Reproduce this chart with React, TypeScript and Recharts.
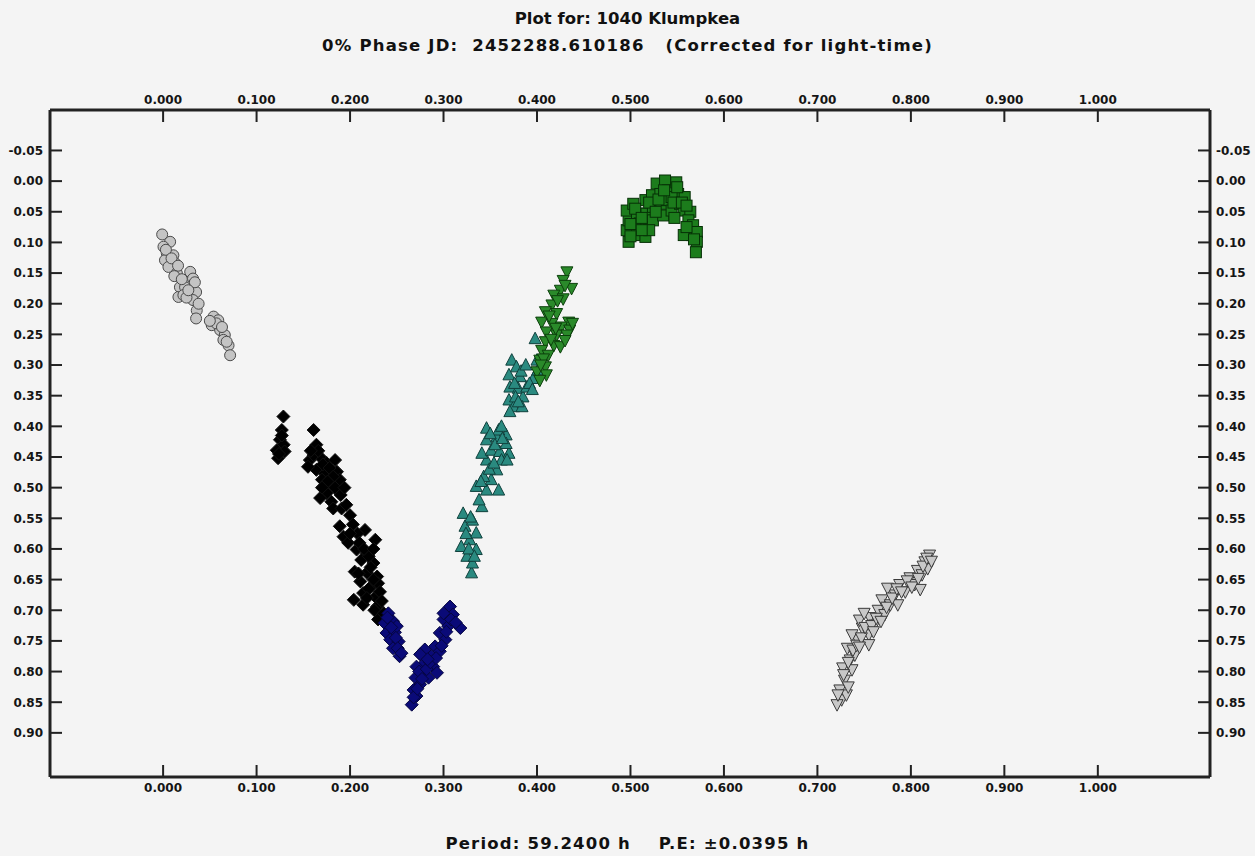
import { ScatterChart, Scatter, XAxis, YAxis } from "recharts";

// phase ticks (top & bottom) and magnitude ticks (left & right)
const phaseTicks = [0, 0.1, 0.2, 0.3, 0.4, 0.5, 0.6, 0.7, 0.8, 0.9, 1.0];
const magTicks = [-0.05, 0, 0.05, 0.1, 0.15, 0.2, 0.25, 0.3, 0.35, 0.4, 0.45, 0.5, 0.55, 0.6, 0.65, 0.7, 0.75, 0.8, 0.85, 0.9];

// [phase, reduced mag]
const grayCircles: [number, number][] = [
  [-0.001, 0.087], [0.0075, 0.099], [0.0004, 0.107], [0.004, 0.118], [0.011, 0.121], [0.002, 0.129],
  [0.013, 0.134], [0.0057, 0.14], [0.0147, 0.15], [0.018, 0.173], [0.0164, 0.189], [0.029, 0.148],
  [0.032, 0.159], [0.031, 0.17], [0.0353, 0.181], [0.032, 0.194], [0.036, 0.211], [0.0353, 0.224],
  [0.0235, 0.173], [0.0217, 0.186], [0.054, 0.221], [0.059, 0.227], [0.052, 0.235], [0.061, 0.243],
  [0.066, 0.251], [0.0645, 0.259], [0.07, 0.268], [0.0717, 0.284],
  [0.003, 0.112], [0.009, 0.126], [0.016, 0.138], [0.012, 0.155], [0.02, 0.16], [0.025, 0.19],
  [0.034, 0.165], [0.038, 0.2], [0.057, 0.232], [0.063, 0.238], [0.068, 0.262], [0.05, 0.228], [0.027, 0.178],
];

const blackDiamonds: [number, number][] = [
  [0.1287, 0.384], [0.127, 0.406], [0.125, 0.422], [0.129, 0.43], [0.1216, 0.439], [0.13, 0.441], [0.123, 0.452],
  [0.161, 0.406], [0.164, 0.43], [0.157, 0.455], [0.168, 0.45], [0.175, 0.46], [0.184, 0.455], [0.164, 0.471],
  [0.173, 0.477], [0.186, 0.474], [0.17, 0.487], [0.179, 0.493], [0.189, 0.487], [0.175, 0.509], [0.186, 0.504],
  [0.168, 0.517], [0.18, 0.523], [0.182, 0.534], [0.191, 0.534], [0.161, 0.447], [0.155, 0.466],
  [0.189, 0.563], [0.193, 0.58], [0.198, 0.59], [0.216, 0.569], [0.227, 0.585], [0.207, 0.601], [0.218, 0.607],
  [0.212, 0.618], [0.225, 0.623], [0.205, 0.637], [0.218, 0.639], [0.229, 0.645], [0.211, 0.653], [0.223, 0.661],
  [0.23, 0.656], [0.214, 0.672], [0.227, 0.678], [0.204, 0.683], [0.214, 0.691], [0.229, 0.694], [0.23, 0.715],
  [0.22, 0.612], [0.225, 0.65],
  [0.166, 0.44], [0.171, 0.462], [0.178, 0.468], [0.182, 0.482], [0.176, 0.49], [0.184, 0.5], [0.19, 0.512],
  [0.196, 0.528], [0.2, 0.545], [0.203, 0.56], [0.208, 0.575], [0.21, 0.59], [0.215, 0.6], [0.222, 0.63],
  [0.22, 0.665], [0.232, 0.67], [0.226, 0.7], [0.218, 0.68], [0.209, 0.64], [0.225, 0.6], [0.127, 0.415],
  [0.124, 0.445], [0.158, 0.44], [0.17, 0.5], [0.194, 0.5], [0.2, 0.575], [0.234, 0.685], [0.236, 0.705],
];

const navyDiamonds: [number, number][] = [
  [0.241, 0.705], [0.237, 0.721], [0.246, 0.718], [0.239, 0.737], [0.248, 0.736], [0.243, 0.748], [0.252, 0.751],
  [0.246, 0.762], [0.253, 0.775], [0.25, 0.726],
  [0.307, 0.694], [0.31, 0.707], [0.318, 0.729], [0.3, 0.715], [0.305, 0.726], [0.296, 0.737], [0.302, 0.748],
  [0.291, 0.759], [0.296, 0.767], [0.28, 0.764], [0.287, 0.775], [0.275, 0.772], [0.28, 0.786], [0.289, 0.792],
  [0.271, 0.792], [0.278, 0.802], [0.27, 0.81], [0.275, 0.821], [0.268, 0.83], [0.271, 0.84], [0.266, 0.854],
  [0.284, 0.81], [0.293, 0.802],
  [0.244, 0.728], [0.249, 0.745], [0.251, 0.762], [0.255, 0.77], [0.24, 0.712], [0.274, 0.8], [0.282, 0.796],
  [0.286, 0.785], [0.292, 0.778], [0.298, 0.758], [0.303, 0.735], [0.308, 0.715], [0.268, 0.842], [0.272, 0.828],
  [0.277, 0.812], [0.283, 0.78], [0.3, 0.705], [0.313, 0.72],
];

const tealTriangles: [number, number][] = [
  [0.33, 0.639], [0.331, 0.623], [0.325, 0.612], [0.335, 0.601], [0.319, 0.596], [0.328, 0.585], [0.335, 0.574],
  [0.323, 0.563], [0.331, 0.553], [0.321, 0.542], [0.341, 0.531],
  [0.335, 0.498], [0.346, 0.504], [0.359, 0.504], [0.351, 0.487], [0.343, 0.482], [0.357, 0.471], [0.346, 0.455],
  [0.341, 0.444], [0.351, 0.439], [0.36, 0.441], [0.37, 0.444], [0.346, 0.422], [0.357, 0.417], [0.367, 0.414],
  [0.346, 0.403], [0.359, 0.406], [0.367, 0.428], [0.362, 0.455],
  [0.373, 0.292], [0.378, 0.303], [0.37, 0.316], [0.382, 0.319], [0.371, 0.336], [0.38, 0.338], [0.385, 0.352],
  [0.37, 0.357], [0.375, 0.368], [0.384, 0.368], [0.371, 0.376], [0.389, 0.336], [0.396, 0.322], [0.398, 0.257],
  [0.4, 0.292], [0.401, 0.308],
  [0.327, 0.6], [0.333, 0.612], [0.324, 0.575], [0.329, 0.548], [0.338, 0.52], [0.349, 0.47], [0.354, 0.46],
  [0.34, 0.49], [0.355, 0.43], [0.363, 0.42], [0.35, 0.412], [0.362, 0.4], [0.368, 0.455], [0.376, 0.33],
  [0.383, 0.31], [0.388, 0.3], [0.377, 0.352], [0.392, 0.33], [0.395, 0.34], [0.38, 0.36],
];

const greenTriangles: [number, number][] = [
  [0.432, 0.148], [0.428, 0.162], [0.437, 0.175], [0.425, 0.178], [0.418, 0.186], [0.428, 0.192], [0.416, 0.202],
  [0.409, 0.213], [0.421, 0.216], [0.434, 0.23], [0.405, 0.23], [0.416, 0.232], [0.426, 0.238], [0.435, 0.243],
  [0.41, 0.246], [0.421, 0.251], [0.432, 0.251], [0.409, 0.262], [0.418, 0.268], [0.425, 0.27], [0.405, 0.276],
  [0.412, 0.284], [0.403, 0.292], [0.409, 0.303], [0.4, 0.311], [0.41, 0.316], [0.403, 0.325],
  [0.43, 0.17], [0.422, 0.195], [0.413, 0.22], [0.43, 0.26], [0.415, 0.258], [0.407, 0.29], [0.42, 0.24],
  [0.438, 0.232], [0.404, 0.3],
];

const greenSquares: [number, number][] = [
  [0.498, 0.099], [0.496, 0.08], [0.498, 0.064], [0.496, 0.048], [0.503, 0.037], [0.507, 0.053], [0.51, 0.069],
  [0.507, 0.088], [0.516, 0.031], [0.517, 0.053], [0.517, 0.075], [0.516, 0.091], [0.523, 0.023], [0.524, 0.042],
  [0.524, 0.064], [0.528, 0.004], [0.532, 0.021], [0.533, 0.037], [0.535, 0.056], [0.537, -0.001], [0.54, 0.015],
  [0.539, 0.031], [0.544, 0.048], [0.549, 0.002], [0.551, 0.021], [0.553, 0.037], [0.557, 0.048], [0.558, 0.026],
  [0.564, 0.05], [0.562, 0.064], [0.567, 0.072], [0.566, 0.088], [0.571, 0.083], [0.571, 0.099], [0.57, 0.116],
  [0.557, 0.088], [0.544, 0.026],
  [0.5, 0.07], [0.505, 0.045], [0.512, 0.06], [0.52, 0.035], [0.527, 0.05], [0.53, 0.03], [0.536, 0.015],
  [0.546, 0.035], [0.55, 0.01], [0.555, 0.035], [0.56, 0.04], [0.56, 0.075], [0.568, 0.095], [0.52, 0.08],
  [0.512, 0.08], [0.547, 0.06], [0.5, 0.09],
];

const grayTriangles: [number, number][] = [
  [0.726, 0.846], [0.724, 0.83], [0.729, 0.814], [0.727, 0.794], [0.735, 0.781], [0.732, 0.762], [0.74, 0.773],
  [0.743, 0.748], [0.737, 0.74], [0.748, 0.729], [0.755, 0.74], [0.745, 0.716], [0.756, 0.712], [0.761, 0.724],
  [0.765, 0.7], [0.772, 0.707], [0.769, 0.683], [0.778, 0.691], [0.783, 0.675], [0.775, 0.664], [0.788, 0.658],
  [0.794, 0.67], [0.799, 0.647], [0.804, 0.658], [0.807, 0.635], [0.812, 0.642], [0.815, 0.621], [0.82, 0.61],
  [0.818, 0.632], [0.81, 0.666], [0.786, 0.691], [0.755, 0.756], [0.721, 0.854], [0.731, 0.838], [0.737, 0.797],
  [0.728, 0.805], [0.733, 0.785], [0.738, 0.765], [0.742, 0.757], [0.747, 0.745], [0.751, 0.728], [0.758, 0.725],
  [0.763, 0.713], [0.768, 0.718], [0.774, 0.695], [0.78, 0.68], [0.785, 0.665], [0.79, 0.67], [0.796, 0.652],
  [0.801, 0.662], [0.808, 0.648], [0.813, 0.628], [0.817, 0.615], [0.822, 0.62], [0.75, 0.705], [0.76, 0.735],
  [0.733, 0.825], [0.722, 0.838], [0.745, 0.76],
];

const toPts = (arr: [number, number][]) => arr.map(([x, y]) => ({ x, y }));

const FONT = "'DejaVu Sans', Arial, sans-serif";
const AXIS = "#222222";
const TICK_LEN = 12;
const MARGIN = 6;

const circle = (fill: string, stroke: string) => (p: any) => (
  <circle cx={p.cx} cy={p.cy} r={5.5} fill={fill} stroke={stroke} strokeWidth={1} />
);
const diamond = (fill: string, stroke: string) => (p: any) => (
  <polygon
    points={`${p.cx},${p.cy - 6.5} ${p.cx + 6.5},${p.cy} ${p.cx},${p.cy + 6.5} ${p.cx - 6.5},${p.cy}`}
    fill={fill} stroke={stroke} strokeWidth={1}
  />
);
const triUp = (fill: string, stroke: string) => (p: any) => (
  <polygon
    points={`${p.cx},${p.cy - 6.5} ${p.cx + 6},${p.cy + 5} ${p.cx - 6},${p.cy + 5}`}
    fill={fill} stroke={stroke} strokeWidth={1}
  />
);
const triDown = (fill: string, stroke: string) => (p: any) => (
  <polygon
    points={`${p.cx - 6},${p.cy - 5} ${p.cx + 6},${p.cy - 5} ${p.cx},${p.cy + 6.5}`}
    fill={fill} stroke={stroke} strokeWidth={1}
  />
);
const square = (fill: string, stroke: string) => (p: any) => (
  <rect x={p.cx - 5.5} y={p.cy - 5.5} width={11} height={11} fill={fill} stroke={stroke} strokeWidth={1} />
);

const labelStyle = { fontFamily: FONT, fontSize: 12, fontWeight: 700, fill: "#151515" };

function LeftTick({ x, y, payload }: any) {
  return (
    <g>
      <line x1={x + 7} x2={x + 7 + TICK_LEN} y1={y} y2={y} stroke={AXIS} strokeWidth={2} />
      <text x={x} y={y} dy="0.36em" textAnchor="end" style={labelStyle}>{payload.value.toFixed(2)}</text>
    </g>
  );
}
function RightTick({ x, y, payload }: any) {
  return (
    <g>
      <line x1={x - MARGIN} x2={x - MARGIN - TICK_LEN} y1={y} y2={y} stroke={AXIS} strokeWidth={2} />
      <text x={x} y={y} dy="0.36em" textAnchor="start" style={labelStyle}>{payload.value.toFixed(2)}</text>
    </g>
  );
}
function TopTick({ x, y, payload }: any) {
  return (
    <g>
      <line x1={x} x2={x} y1={y + MARGIN} y2={y + MARGIN + TICK_LEN} stroke={AXIS} strokeWidth={2} />
      <text x={x} y={y} textAnchor="middle" style={labelStyle}>{payload.value.toFixed(3)}</text>
    </g>
  );
}
function BottomTick({ x, y, payload }: any) {
  return (
    <g>
      <line x1={x} x2={x} y1={y - MARGIN} y2={y - MARGIN - TICK_LEN} stroke={AXIS} strokeWidth={2} />
      <text x={x} y={y} dy="0.74em" textAnchor="middle" style={labelStyle}>{payload.value.toFixed(3)}</text>
    </g>
  );
}

const xDomain = [-0.121, 1.12];
const yDomain = [-0.116, 0.972];

export default function App() {
  const textStyle = {
    position: "absolute" as const, left: 0, width: 1255, textAlign: "center" as const,
    fontFamily: FONT, fontWeight: 700, fontSize: 16.5, color: "#111", whiteSpace: "pre" as const,
  };
  return (
    <div style={{ position: "absolute", left: 0, top: 0, width: 1255, height: 856, background: "#f4f4f4" }}>
      <div style={{ ...textStyle, top: 9 }}>Plot for: 1040 Klumpkea</div>
      <div style={{ ...textStyle, top: 36, letterSpacing: 1.2 }}>0% Phase JD:  2452288.610186   (Corrected for light-time)</div>
      <div style={{ ...textStyle, top: 834, letterSpacing: 1.2 }}>Period: 59.2400 h    P.E: ±0.0395 h</div>
      <ScatterChart width={1255} height={856} margin={{ top: 80, right: 0, bottom: 49, left: 0 }}>
        <XAxis xAxisId="bottom" orientation="bottom" type="number" dataKey="x" domain={xDomain}
          ticks={phaseTicks} allowDataOverflow height={30} tickSize={0} tickMargin={MARGIN}
          tickLine={false} axisLine={{ stroke: AXIS, strokeWidth: 3 }} tick={<BottomTick />} />
        <XAxis xAxisId="top" orientation="top" type="number" dataKey="x" domain={xDomain}
          ticks={phaseTicks} allowDataOverflow height={30} tickSize={0} tickMargin={MARGIN}
          tickLine={false} axisLine={{ stroke: AXIS, strokeWidth: 3 }} tick={<TopTick />} />
        <YAxis yAxisId="left" orientation="left" type="number" dataKey="y" domain={yDomain} reversed
          ticks={magTicks} allowDataOverflow width={50} tickSize={0} tickMargin={7}
          tickLine={false} axisLine={{ stroke: AXIS, strokeWidth: 3 }} tick={<LeftTick />} />
        <YAxis yAxisId="right" orientation="right" type="number" dataKey="y" domain={yDomain} reversed
          ticks={magTicks} allowDataOverflow width={45} tickSize={0} tickMargin={MARGIN}
          tickLine={false} axisLine={{ stroke: AXIS, strokeWidth: 3 }} tick={<RightTick />} />
        <Scatter xAxisId="bottom" yAxisId="left" data={toPts(grayCircles)} shape={circle("#c4c4c4", "#4a4a4a")} isAnimationActive={false} />
        <Scatter xAxisId="bottom" yAxisId="left" data={toPts(blackDiamonds)} shape={diamond("#000000", "#111111")} isAnimationActive={false} />
        <Scatter xAxisId="bottom" yAxisId="left" data={toPts(navyDiamonds)} shape={diamond("#0a0a78", "#050540")} isAnimationActive={false} />
        <Scatter xAxisId="bottom" yAxisId="left" data={toPts(tealTriangles)} shape={triUp("#2a8a80", "#10403c")} isAnimationActive={false} />
        <Scatter xAxisId="bottom" yAxisId="left" data={toPts(greenTriangles)} shape={triDown("#2a8a2a", "#0c400c")} isAnimationActive={false} />
        <Scatter xAxisId="bottom" yAxisId="left" data={toPts(greenSquares)} shape={square("#1c7c1c", "#063006")} isAnimationActive={false} />
        <Scatter xAxisId="bottom" yAxisId="left" data={toPts(grayTriangles)} shape={triDown("#c8c8c8", "#3a3a3a")} isAnimationActive={false} />
      </ScatterChart>
    </div>
  );
}
